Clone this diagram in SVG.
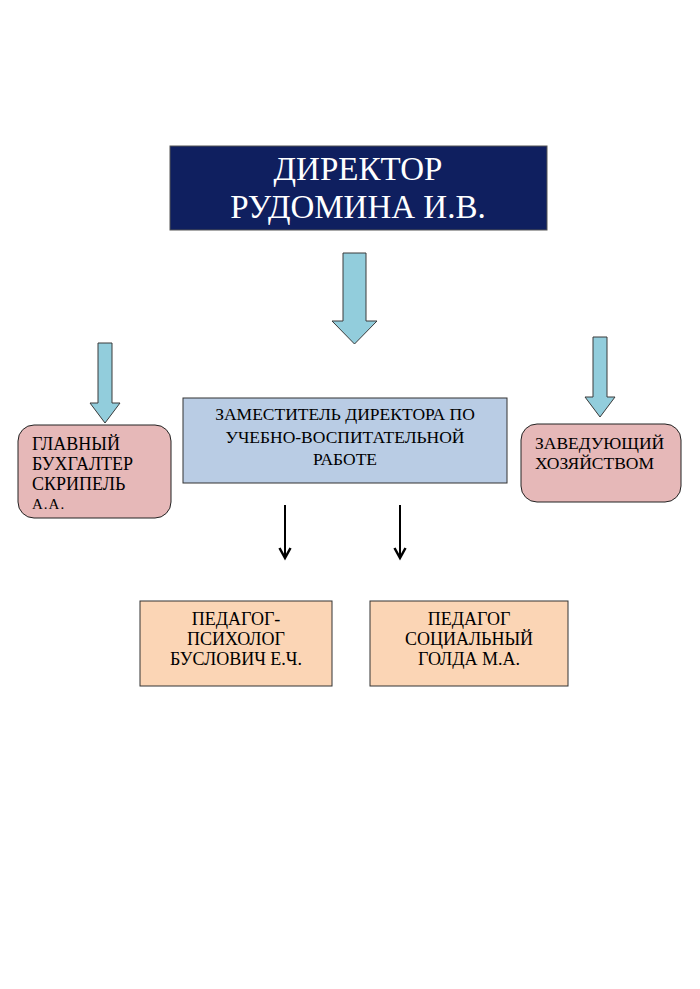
<svg xmlns="http://www.w3.org/2000/svg" width="700" height="989" viewBox="0 0 700 989">
<defs>
<style>
.t{font-family:"Liberation Serif","Times New Roman",serif;fill:#000}
.c{text-anchor:middle}
.blk{fill:#92cddc;stroke:#3a3a3a;stroke-width:1}
.ln{stroke:#000;stroke-width:2;fill:none}
.hd{stroke:#000;stroke-width:2.5;fill:none;stroke-linejoin:miter}
</style>
</defs>
<rect width="700" height="989" fill="#fff"/>
<g id="director">
<rect x="170" y="146" width="377" height="84" fill="#0f1f5f" stroke="#555" stroke-width="1"/>
<text class="t c" x="358" y="180" font-size="33" style="fill:#fff">ДИРЕКТОР</text>
<text class="t c" x="358" y="218" font-size="33" style="fill:#fff">РУДОМИНА И.В.</text>
</g>
<g id="connectors">
<path class="blk" d="M343,253 H366 V321 H377 L354.5,344 L332,321 H343 Z"/>
<path class="blk" d="M98,343 H112 V403 H120 L105,423 L90,403 H98 Z"/>
<path class="blk" d="M593,337 H607 V397 H615 L600,417 L585,397 H593 Z"/>
<line class="ln" x1="285" y1="505" x2="285" y2="557"/>
<polyline class="hd" points="279.5,548 285,558 290.5,548"/>
<line class="ln" x1="400" y1="505" x2="400" y2="557"/>
<polyline class="hd" points="394.5,548 400,558 405.5,548"/>
</g>
<g id="accountant">
<rect x="18" y="425" width="153" height="93" rx="16" fill="#e6b8b8" stroke="#222" stroke-width="1"/>
<text class="t" x="32" y="450" font-size="18">ГЛАВНЫЙ</text>
<text class="t" x="32" y="470" font-size="18">БУХГАЛТЕР</text>
<text class="t" x="32" y="490" font-size="18">СКРИПЕЛЬ</text>
<text class="t" x="32" y="509" font-size="15" letter-spacing="1">А.А.</text>
</g>
<g id="deputy">
<rect x="183" y="398" width="324" height="85" fill="#b9cce4" stroke="#333" stroke-width="1"/>
<text class="t c" x="345" y="420" font-size="17.5">ЗАМЕСТИТЕЛЬ ДИРЕКТОРА ПО</text>
<text class="t c" x="345" y="443" font-size="17.5">УЧЕБНО-ВОСПИТАТЕЛЬНОЙ</text>
<text class="t c" x="345" y="465" font-size="17.5">РАБОТЕ</text>
</g>
<g id="manager">
<rect x="521" y="424" width="160" height="78" rx="16" fill="#e6b8b8" stroke="#222" stroke-width="1"/>
<text class="t" x="535" y="449" font-size="17.5">ЗАВЕДУЮЩИЙ</text>
<text class="t" x="535" y="469" font-size="17.5">ХОЗЯЙСТВОМ</text>
</g>
<g id="psychologist">
<rect x="140" y="601" width="192" height="85" fill="#fbd5b5" stroke="#333" stroke-width="1"/>
<text class="t c" x="236" y="625" font-size="18">ПЕДАГОГ-</text>
<text class="t c" x="236" y="645" font-size="18">ПСИХОЛОГ</text>
<text class="t c" x="236" y="665" font-size="18">БУСЛОВИЧ Е.Ч.</text>
</g>
<g id="social">
<rect x="370" y="601" width="198" height="85" fill="#fbd5b5" stroke="#333" stroke-width="1"/>
<text class="t c" x="469" y="625" font-size="18">ПЕДАГОГ</text>
<text class="t c" x="469" y="645" font-size="18">СОЦИАЛЬНЫЙ</text>
<text class="t c" x="469" y="665" font-size="18">ГОЛДА М.А.</text>
</g>
</svg>
